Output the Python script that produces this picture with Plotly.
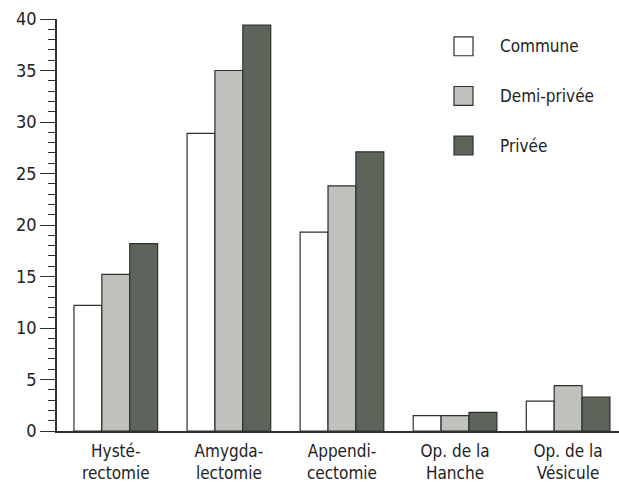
import plotly.graph_objects as go

categories = ["Hysté-<br>rectomie", "Amygda-<br>lectomie", "Appendi-<br>cectomie",
              "Op. de la<br>Hanche", "Op. de la<br>Vésicule"]
series_names = ["Commune", "Demi-privée", "Privée"]
commune = [12.2, 28.9, 19.3, 1.5, 2.9]
demi_privee = [15.2, 35.0, 23.8, 1.5, 4.4]
privee = [18.2, 39.4, 27.1, 1.8, 3.3]
y_ticks = [0, 5, 10, 15, 20, 25, 30, 35, 40]

colors = ["#ffffff", "#bfc1bc", "#5d6459"]
values = [commune, demi_privee, privee]
FONT = "DejaVu Sans Condensed, DejaVu Sans, sans-serif"
LINE = "#2e302d"
TXT = "#222"

fig = go.Figure()
for name, vals, col in zip(series_names, values, colors):
    fig.add_trace(go.Bar(x=categories, y=vals, name=name, marker_color=col,
                         marker_line_color=LINE, marker_line_width=1.2,
                         showlegend=False))

W, H = 619, 483
L, R, T, B = 57, 0, 19, 49
pw, ph = W - L - R, H - T - B

def px(x):
    return (x - L) / pw

def py(y):
    return (H - B - y) / ph

shapes = []
annotations = []
legend_tops = [37, 87, 137]
for name, col, top in zip(series_names, colors, legend_tops):
    shapes.append(dict(type="rect", xref="paper", yref="paper",
                       x0=px(454), x1=px(473), y0=py(top + 19), y1=py(top),
                       fillcolor=col, line=dict(color=LINE, width=1.2)))
    annotations.append(dict(xref="paper", yref="paper", x=px(498), y=py(top + 9.5),
                            text=name, showarrow=False, xanchor="left", yanchor="middle",
                            font=dict(family=FONT, size=17, color=TXT)))

fig.update_layout(
    width=W, height=H,
    margin=dict(l=L, r=R, t=T, b=B, pad=0),
    paper_bgcolor="white", plot_bgcolor="white",
    barmode="group", bargap=0.26, bargroupgap=0,
    font=dict(family=FONT, size=17, color=TXT),
    shapes=shapes, annotations=annotations,
)
fig.update_xaxes(range=[-0.52, 4.45], showline=True, linecolor=LINE, linewidth=1.5,
                 ticks="", showgrid=False, zeroline=False, ticklabelstandoff=4,
                 tickfont=dict(family=FONT, size=17, color=TXT))
fig.update_yaxes(range=[0, 40], tickvals=y_ticks, showline=True, linecolor=LINE, linewidth=1.5,
                 ticks="outside", ticklen=15, tickwidth=1.3, tickcolor=LINE,
                 minor=dict(dtick=1, ticks="outside", ticklen=7, tickwidth=1, tickcolor=LINE, showgrid=False),
                 showgrid=False, zeroline=False,
                 tickfont=dict(family=FONT, size=18, color=TXT))

fig.write_html("out.html")
